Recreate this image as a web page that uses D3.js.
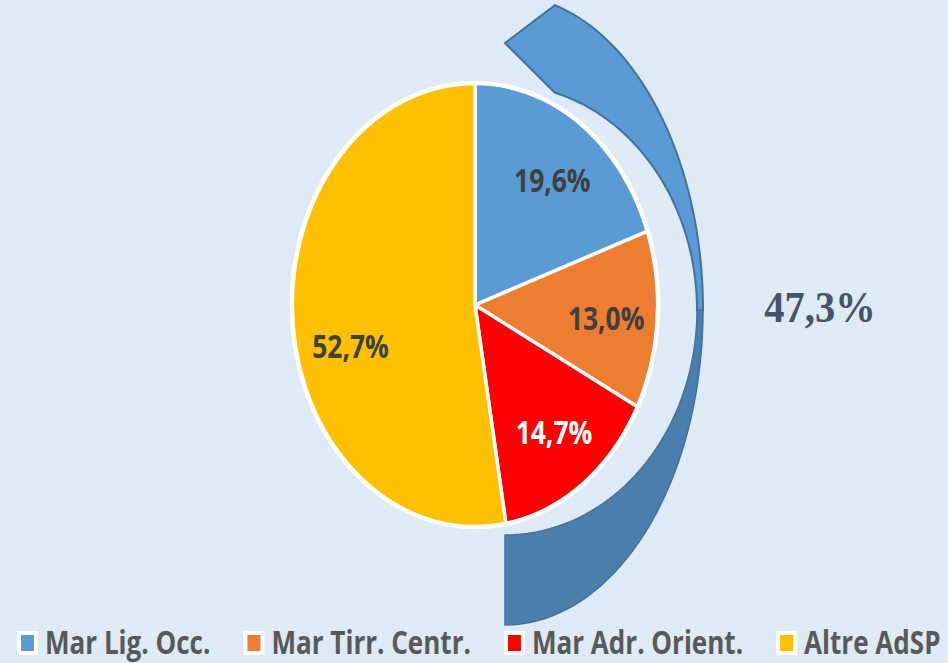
<!DOCTYPE html>
<html>
<head>
<meta charset="utf-8">
<script src="https://cdn.jsdelivr.net/npm/d3@7"></script>
<style>
  body { margin: 0; background: #deeaf6; }
  svg { display: block; }
</style>
</head>
<body>
<div id="chart"></div>
<script>
const width = 948,
  height = 663;

const categories = ["Mar Lig. Occ.", "Mar Tirr. Centr.", "Mar Adr. Orient.", "Altre AdSP"];
const shares = [19.6, 13.0, 14.7, 52.7];
const colors = ["#5b9bd5", "#ed7d31", "#ff0000", "#ffc000"];
const labelColors = ["#404040", "#404040", "#ffffff", "#404040"];
const groupedCount = 3; // the first three make up the bracket total

const fmt = v => d3.format(".1f")(v).replace(".", ",") + "%";

const svg = d3
  .select("#chart")
  .append("svg")
  .attr("width", width)
  .attr("height", height);

svg.append("rect").attr("width", width).attr("height", height).attr("fill", "#deeaf6");

// the picture is squeezed horizontally, so the circle becomes an ellipse
const squeeze = 0.825;
const R = 222;
const cx = 475,
  cy = 305;

// bracket around the grouped slices
const bx = 505,
  by = 310;
const outer = { rx: 198, ry: 315 },
  inner = { rx: 192, ry: 225 };
const ell = (e, deg) => {
  const t = (deg * Math.PI) / 180;
  return [bx + e.rx * Math.sin(t), by - e.ry * Math.cos(t)];
};
const line = d3.line();
const span = (e, a0, a1) => d3.range(0, 41).map(i => ell(e, a0 + ((a1 - a0) * i) / 40));

const topPts = span(outer, 14.6, 90)
  .concat(span(inner, 90, 15.1))
  .concat([[bx, 43]]);
svg
  .append("path")
  .attr("d", line(topPts) + "Z")
  .attr("fill", "#5b9bd5")
  .attr("stroke", "#41719c")
  .attr("stroke-width", 2);

const botPts = span(outer, 90, 180).concat(span(inner, 180, 90));
svg
  .append("path")
  .attr("d", line(botPts) + "Z")
  .attr("fill", "#4a7eac")
  .attr("stroke", "#44719c")
  .attr("stroke-width", 1.5);

const groupTotal = d3.sum(shares.slice(0, groupedCount));
svg
  .append("g")
  .attr("transform", `translate(820,322) scale(0.92,1)`)
  .append("text")
  .attr("text-anchor", "middle")
  .attr("font-family", "'Liberation Serif', 'Times New Roman', serif")
  .attr("font-weight", "bold")
  .attr("font-size", 44)
  .attr("fill", "#44546a")
  .text(fmt(groupTotal));

// pie
const pie = d3.pie().sort(null).value(d => d);
const arcs = pie(shares);
const arc = d3.arc().innerRadius(0).outerRadius(R);
const labelArc = d3.arc().innerRadius(R * 0.7).outerRadius(R * 0.7);

const pieG = svg.append("g").attr("transform", `translate(${cx},${cy}) scale(${squeeze},1)`);
pieG
  .selectAll("path")
  .data(arcs)
  .enter()
  .append("path")
  .attr("d", arc)
  .attr("fill", (d, i) => colors[i])
  .attr("stroke", "#ffffff")
  .attr("stroke-width", 3.5)
  .attr("vector-effect", "non-scaling-stroke");

// thicker white rim round the whole pie
pieG
  .append("ellipse")
  .attr("rx", R)
  .attr("ry", R)
  .attr("fill", "none")
  .attr("stroke", "#ffffff")
  .attr("stroke-width", 4.5)
  .attr("vector-effect", "non-scaling-stroke");

pieG
  .selectAll(".lbl")
  .data(arcs)
  .enter()
  .append("g")
  .attr("class", "lbl")
  .attr("transform", (d, i) => {
    const c = labelArc.centroid(d);
    const nudge = i === arcs.length - 1 ? 26 : 0;
    return `translate(${c[0] + 4},${c[1] + 14 + nudge}) scale(${0.8 / squeeze},1)`;
  })
  .append("text")
  .attr("text-anchor", "middle")
  .attr("font-family", "'Open Sans', sans-serif")
  .attr("font-weight", "bold")
  .attr("font-size", 33)
  .attr("fill", (d, i) => labelColors[i])
  .text(d => fmt(d.data));

// legend
const legend = svg.append("g");
let x = 17;
const textScale = 0.79;
categories.forEach((name, i) => {
  const item = legend.append("g").attr("transform", `translate(${x},0)`);
  item.append("rect").attr("x", 0).attr("y", 631).attr("width", 21).attr("height", 24).attr("fill", "#ffffff");
  item.append("rect").attr("x", 4).attr("y", 635).attr("width", 13).attr("height", 16).attr("fill", colors[i]);
  const t = item
    .append("g")
    .attr("transform", `translate(28,654) scale(${textScale},1)`)
    .append("text")
    .attr("font-family", "'Open Sans', sans-serif")
    .attr("font-weight", "bold")
    .attr("font-size", 33)
    .attr("fill", "#595959")
    .text(name);
  x += 28 + t.node().getComputedTextLength() * textScale + 33;
});
</script>
</body>
</html>
